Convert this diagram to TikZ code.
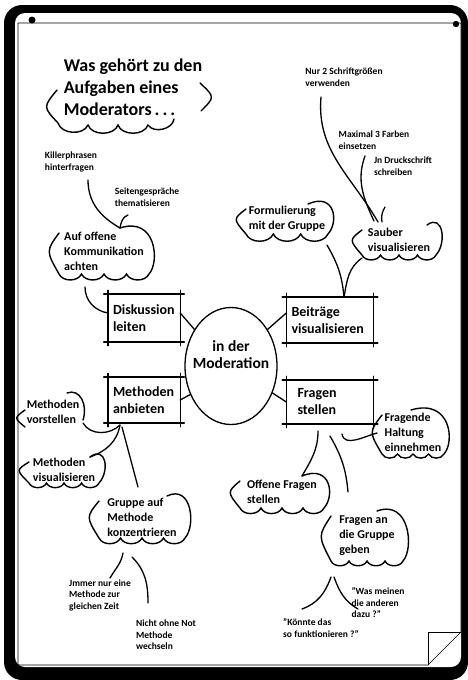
\documentclass[tikz,border=0pt]{standalone}
\usepackage{fontspec}
\setmainfont{Carlito}
\usetikzlibrary{calc,positioning,shapes.geometric}

\newcommand\sketchbox[1]{%
  \draw[boxline] ([xshift=-4pt]#1.north west) -- ([xshift=4pt]#1.north east);
  \draw[boxline] ([xshift=-4pt]#1.south west) -- ([xshift=4pt]#1.south east);
  \draw[sideline] ([yshift=4pt]#1.north west) -- ([yshift=-4pt]#1.south west);
  \draw[sideline] ([yshift=4pt]#1.north east) -- ([yshift=-4pt]#1.south east);
}
\newcommand\cloudy[5]{%
  \draw[cloudline] ($(#1.center)+(-#2+2,#3-5)$)
    .. controls ($(#1.center)+(-#2-11,0)$) .. ($(#1.center)+(-#2+2,-#3)$)
    \foreach \k in {1,...,#4}{ to[bend right=65] ($(#1.center)+({-#2+2+\k*(2*#2-4)/#4},-#3)$) }
    .. controls ($(#1.center)+(#2+9,-#3+12)$) and ($(#1.center)+(#2+5,#3+12)$) .. ($(#1.center)+(#2-#5,#3)$);
}

\begin{document}
\begin{tikzpicture}[x=1pt, y=1pt,
    cloudline/.style={line width=1.4pt, line cap=round},
    link/.style={line width=1.3pt, line cap=round},
    boxline/.style={line width=2pt, line cap=round},
    sideline/.style={line width=1.4pt, line cap=round},
    headline/.style={align=left, inner sep=0pt, font=\bfseries\fontsize{18}{22}\selectfont},
    note/.style={align=left, inner sep=0pt, font=\bfseries\fontsize{9.5}{11.5}\selectfont},
    cloudtext/.style={align=left, inner sep=0pt, font=\bfseries\fontsize{12}{15}\selectfont},
    topic/.style={align=left, inner sep=5pt, font=\bfseries\fontsize{14}{17}\selectfont},
    hubtext/.style={align=center, inner sep=0pt, font=\bfseries\fontsize{15.5}{17}\selectfont},
  ]
  \useasboundingbox (0,0) rectangle (468,-680);
  % board and sheet
  \fill[black, rounded corners=18pt] (4,-5) rectangle (468,-680);
  \fill[white, rounded corners=10pt] (15,-13) rectangle (461,-667);
  \draw[line width=0.6pt] (18,-23) -- (461,-23) -- (461,-632) -- (428,-665) -- (18,-665) -- cycle;
  \draw[line width=0.6pt] (461,-632) -- (428,-632) -- (428,-665);
  \fill (32,-20) circle (3.5);
  \fill (456,-24) circle (3.2);

  % title
  \node[headline] (title) at (133,-87) {Was gehört zu den\\Aufgaben eines\\Moderators\,.\,.\,.};
  \draw[cloudline] ($(title.center)+(-76,-3)$) .. controls ($(title.center)+(-90,-20)$) .. ($(title.center)+(-75,-36)$)
    to[bend right=70] ($(title.center)+(-45,-38)$) to[bend right=70] ($(title.center)+(-15,-38)$)
    to[bend right=70] ($(title.center)+(15,-38)$) to[bend right=70] ($(title.center)+(41,-32)$);
  \draw[cloudline] ($(title.center)+(67,4)$) .. controls ($(title.center)+(82,-10)$) .. ($(title.center)+(68,-24)$);

  % centre and topics
  \node[draw, ellipse, line width=1.3pt, minimum width=92pt, minimum height=117pt, inner sep=0pt] (hub) at (231,-366) {};
  \node[hubtext] (hubtext) at (231,-355) {in der\\Moderation};
  \node[topic, minimum width=72pt, minimum height=47pt, text width=62pt] (disk) at (144,-318) {Diskussion\\leiten};
  \node[topic, minimum width=87pt, minimum height=45pt, text width=77pt] (beit) at (330,-320) {Beiträge\\visualisieren};
  \node[topic, minimum width=72pt, minimum height=45pt, text width=62pt] (meth) at (144,-400) {Methoden\\anbieten};
  \node[topic, minimum width=87pt, minimum height=43pt, inner xsep=11pt, text width=65pt] (frag) at (330,-402) {Fragen\\stellen};
  \sketchbox{disk}
  \sketchbox{beit}
  \sketchbox{meth}
  \sketchbox{frag}
  \draw[link] ([yshift=5pt]disk.east) -- (hub.135);
  \draw[link] ([yshift=7pt]beit.west) -- (hub.45);
  \draw[link] (meth.east) -- (hub.215);
  \draw[link] (frag.west) -- (hub.327);

  % Diskussion leiten
  \node[note] (killer) at (71,-162) {Killerphrasen\\hinterfragen};
  \node[note] (seiten) at (147,-197) {Seitengespräche\\thematisieren};
  \node[cloudtext] (auf) at (104,-251) {Auf offene\\Kommunikation\\achten};
  \cloudy{auf}{47}{23}{4}{31}
  \draw[link] ($(killer.center)+(17,-18)$) to[out=-90, in=150] ($(auf.center)+(16,23)$);
  \draw[link] ($(seiten.center)+(-19,-18)$) to[out=200, in=80] ($(auf.center)+(16,23)$);
  \draw[link] ($(auf.center)+(-19,-36)$) to[out=-90, in=170] ([yshift=5pt]disk.west);

  % Beiträge visualisieren
  \node[note] (nur) at (344,-77) {Nur 2 Schriftgrößen\\verwenden};
  \node[note] (maximal) at (374,-140) {Maximal 3 Farben\\einsetzen};
  \node[note] (druck) at (403,-166) {Jn Druckschrift\\schreiben};
  \node[cloudtext] (form) at (287,-219) {Formulierung\\mit der Gruppe};
  \node[cloudtext] (sauber) at (399,-240) {Sauber\\visualisieren};
  \cloudy{form}{43}{15}{3}{22}
  \cloudy{sauber}{39}{15}{4}{11}
  \draw[link] ($(nur.center)+(-23,-20)$) to[out=-95, in=120] ($(sauber.center)+(-21,18)$);
  \draw[link] ($(maximal.center)+(-9,-16)$) to[out=-110, in=115] ($(sauber.center)+(-25,19)$);
  \draw[link] ($(druck.center)+(-18,-41)$) to[out=-120, in=100] ($(sauber.center)+(-17,18)$);
  \draw[link] ($(form.center)+(40,-26)$) to[out=-60, in=95] ([xshift=14pt]beit.north);
  \draw[link] ($(sauber.center)+(-37,-18)$) to[out=215, in=80] ([xshift=14pt]beit.north);

  % Fragen stellen
  \node[cloudtext] (fragende) at (413,-432) {Fragende\\Haltung\\einnehmen};
  \node[cloudtext] (offene) at (282,-492) {Offene Fragen\\stellen};
  \node[cloudtext] (fragenan) at (367,-536) {Fragen an\\die Gruppe\\geben};
  \node[note] (wasmeinen) at (378,-603) {"Was meinen\\die anderen\\dazu ?"};
  \node[note] (koennte) at (321,-628) {"Könnte das\\so funktionieren ?"};
  \cloudy{fragende}{33}{22}{4}{35}
  \cloudy{offene}{44}{16}{4}{24}
  \cloudy{fragenan}{38}{25}{4}{28}
  \draw[link] ($(frag.center)+(-12,-29)$) to[out=-90, in=60] ($(offene.center)+(20,16)$);
  \draw[link] ($(frag.center)+(0,-34)$) to[out=-60, in=95] ($(fragenan.center)+(-19,44)$);
  \draw[link] ($(frag.center)+(12,-32)$) to[out=-80, in=195] ($(fragende.center)+(-36,-1)$);
  \draw[link] ($(fragenan.center)+(-36,-41)$) to[out=-110, in=20] ($(koennte.center)+(-19,19)$);
  \draw[link] ($(fragenan.center)+(-33,-41)$) to[out=-70, in=150] ($(wasmeinen.center)+(-20,-6)$);

  % Methoden anbieten
  \node[cloudtext] (vorstellen) at (53,-412) {Methoden\\vorstellen};
  \node[cloudtext] (visual) at (64,-470) {Methoden\\visualisieren};
  \node[cloudtext] (gruppe) at (142,-517) {Gruppe auf\\Methode\\konzentrieren};
  \node[note] (jmmer) at (100,-595) {Jmmer nur eine\\Methode zur\\gleichen Zeit};
  \node[note] (nicht) at (166,-635) {Nicht ohne Not\\Methode\\wechseln};
  \draw[cloudline] ($(vorstellen.center)+(-28,2)$) .. controls ($(vorstellen.center)+(-39,-6)$) .. ($(vorstellen.center)+(-28,-15)$);
  \draw[cloudline] ($(vorstellen.center)+(14,19)$) .. controls ($(vorstellen.center)+(27,24)$) and ($(vorstellen.center)+(35,7)$) .. ($(vorstellen.center)+(30,-8)$);
  \cloudy{visual}{37}{13}{4}{11}
  \cloudy{gruppe}{45}{21}{4}{20}
  \draw[link] ($(vorstellen.center)+(30,-11)$) to[out=-60, in=225] ($(meth.center)+(-24,-25)$);
  \draw[link] ($(meth.center)+(-24,-25)$) to[out=-100, in=20] ($(visual.center)+(26,13)$);
  \draw[link] ($(meth.center)+(-22,-27)$) to[out=-75, in=105] ($(gruppe.center)+(-4,30)$);
  \draw[link] ($(gruppe.center)+(-19,-36)$) to[out=-100, in=60] ($(jmmer.center)+(10,17)$);
  \draw[link] ($(gruppe.center)+(-10,-40)$) to[out=-45, in=90] ($(nicht.center)+(-18,32)$);
\end{tikzpicture}
\end{document}
